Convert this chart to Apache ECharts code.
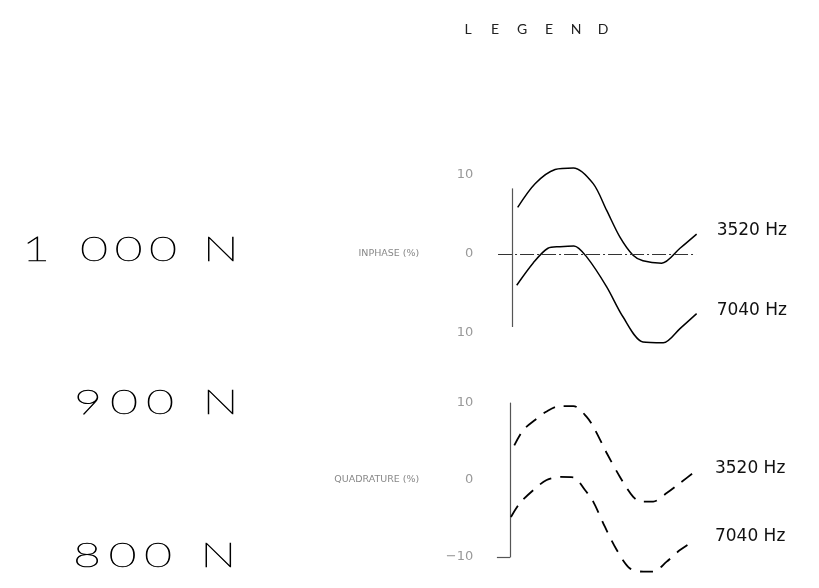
<!DOCTYPE html>
<html><head><meta charset="utf-8">
<script src="https://cdn.jsdelivr.net/npm/echarts@6/dist/echarts.min.js"></script>
<style>html,body{margin:0;padding:0;background:#fff}#c{width:819px;height:588px}</style>
</head><body><div id="c"></div>
<script>
// ---- data ----
const legendTitle = 'LEGEND';
const forceLabels = ['1 000 N', '900 N', '800 N'];
const panelNames = ['INPHASE (%)', 'QUADRATURE (%)'];
const seriesNames = ['3520 Hz', '7040 Hz'];
const inphaseTickLabels = ['10', '0', '10'];      // bottom, middle, top (as printed)
const quadTickLabels = ['\u221210', '0', '10'];
// x: relative position along the sweep (0..100), y: percent
const inphase3520 = [[4.1,5.9],[13.4,8.9],[24.1,10.7],[33.9,10.9],[44.5,8.9],[51.7,5.5],[58.8,2.1],[65.8,-0.2],[71.1,-0.9],[81.1,-1.2],[90.9,0.7],[99.8,2.5]];
const inphase7040 = [[3.6,-4.0],[12.3,-1.2],[20.3,0.7],[26.7,0.9],[34.2,1.0],[41.0,-0.4],[51.7,-4.2],[60.4,-8.0],[71.1,-11.2],[82.0,-11.3],[90.9,-9.5],[99.8,-7.6]];
const quad3520 = [[2.3,4.5],[7.1,6.5],[13.4,7.8],[19.6,8.9],[26.7,9.6],[33.9,9.6],[41.0,8.2],[45.5,6.5],[51.7,3.5],[58.8,0.4],[65.9,-2.2],[70.4,-2.8],[76.6,-2.8],[83.8,-1.7],[90.9,-0.4],[98.9,1.1]];
const quad7040 = [[0.5,-4.8],[5.3,-3.0],[12.5,-1.3],[19.6,0],[26.7,0.4],[33.9,0.35],[40.1,-1.3],[44.5,-2.8],[50.8,-6.1],[57.1,-9.1],[64.2,-11.5],[71.3,-11.9],[76.6,-11.9],[83.8,-10.6],[90.9,-9.1],[98.9,-7.8]];
const inphaseZeroSpan = [-6.4, 99.5];
const inphaseAxisSpan = [8.3, -9.3];
const quadTickStub = [-7, 0];

// ---- chart ----
const chart = echarts.init(document.getElementById('c'), null, {renderer: 'canvas'});

function spacedChars(str, cx0, cy, pitch, spaceUnits, font) {
  const out = [];
  let pos = cx0;
  for (const ch of str) {
    if (ch === ' ') { pos += spaceUnits * pitch; continue; }
    const style = {
      text: ch, fill: font.color, fontSize: font.size, fontFamily: font.family,
      fontWeight: font.weight, align: 'center', verticalAlign: 'middle',
      textAlign: 'center', textVerticalAlign: 'middle'
    };
    if (font.stroke) { style.stroke = font.stroke; style.lineWidth = font.strokeWidth; }
    out.push({type: 'text', x: pos, y: cy, scaleX: font.scaleX || 1, silent: true, style});
    pos += pitch;
  }
  return out;
}

const bigFont = {size: 34, family: 'Lato', weight: 200, color: '#000', stroke: '#000', strokeWidth: 0.7, scaleX: 1.4};
const graphics = [].concat(
  spacedChars(legendTitle, 468, 29, 27, 1, {size: 14, family: 'Lato', weight: 400, color: '#222'}),
  spacedChars(forceLabels[0], 36, 250, 34.5, 0.68, bigFont),
  spacedChars(forceLabels[1], 88, 403.5, 36, 0.68, bigFont),
  spacedChars(forceLabels[2], 87, 556.5, 35.5, 0.7, bigFont)
);

const tickLabelFn = (labels) => (v) => labels[Math.round((v + 10) / 10)];

function yAxisCfg(gridIndex, name, labels, showLine) {
  return {
    type: 'value', gridIndex, min: -10, max: 10, interval: 10,
    name, nameLocation: 'middle', nameRotate: 0, nameGap: 72, nameMoveOverlap: false,
    nameTextStyle: {color: '#888', fontSize: 9.5, fontFamily: 'DejaVu Sans', align: 'right', verticalAlign: 'middle'},
    axisLine: {show: showLine, onZero: true, lineStyle: {color: '#555', width: 1.2}},
    axisTick: {show: false},
    splitLine: {show: false},
    axisLabel: {margin: 18, color: '#999', fontSize: 13, fontFamily: 'DejaVu Sans', formatter: tickLabelFn(labels)}
  };
}

const endLabel = {show: true, formatter: '{a}', distance: 20, offset: [0, -3], color: '#111', fontSize: 17, fontFamily: 'DejaVu Sans'};

function lineSeries(name, data, xi, dashed, markLine) {
  const s = {
    type: 'line', name, data, xAxisIndex: xi, yAxisIndex: xi,
    showSymbol: false, symbol: 'none', smooth: 0.3, clip: false, silent: true,
    lineStyle: {color: '#000', width: dashed ? 1.8 : 1.5, type: dashed ? [13, 9] : 'solid'},
    endLabel, z: 3
  };
  if (markLine) s.markLine = markLine;
  return s;
}

const option = {
  backgroundColor: '#fff',
  animation: false,
  graphic: {elements: graphics},
  grid: [
    {left: 491.3, top: 175, width: 205.7, height: 157.5},
    {left: 491.3, top: 403, width: 205.7, height: 154}
  ],
  xAxis: [
    {type: 'value', gridIndex: 0, min: -10, max: 100, show: false},
    {type: 'value', gridIndex: 1, min: -10, max: 100, show: false}
  ],
  yAxis: [
    yAxisCfg(0, panelNames[0], inphaseTickLabels, false),
    yAxisCfg(1, panelNames[1], quadTickLabels, true)
  ],
  series: [
    lineSeries(seriesNames[0], inphase3520, 0, false, {
      silent: true, symbol: 'none', label: {show: false}, animation: false,
      data: [
        [{coord: [inphaseZeroSpan[0], 0], lineStyle: {type: [14, 3, 2, 3], color: '#333', width: 1}},
         {coord: [inphaseZeroSpan[1], 0]}],
        [{coord: [1.4, inphaseAxisSpan[0]], lineStyle: {type: 'solid', color: '#555', width: 1.2}},
         {coord: [1.4, inphaseAxisSpan[1]]}]
      ]
    }),
    lineSeries(seriesNames[1], inphase7040, 0, false),
    lineSeries(seriesNames[0], quad3520, 1, true, {
      silent: true, symbol: 'none', label: {show: false}, animation: false,
      data: [
        [{coord: [quadTickStub[0], -10], lineStyle: {type: 'solid', color: '#555', width: 1.2}},
         {coord: [quadTickStub[1], -10]}]
      ]
    }),
    lineSeries(seriesNames[1], quad7040, 1, true)
  ]
};
chart.setOption(option);
</script></body></html>
